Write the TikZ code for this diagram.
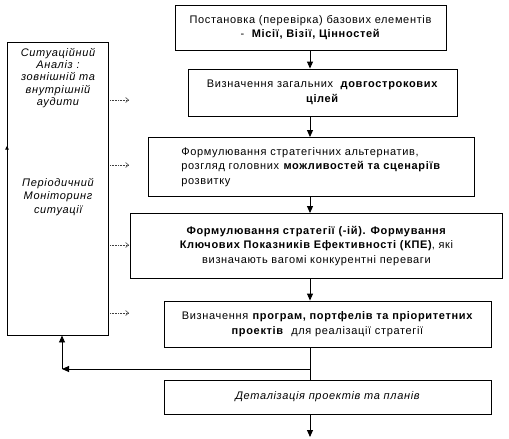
\documentclass[tikz,border=0pt]{standalone}
\usepackage{fontspec}
\setmainfont{Liberation Sans}[LetterSpace=6]
\usetikzlibrary{arrows.meta}
\begin{document}
\begin{tikzpicture}[x=1pt,y=-1pt,
  every node/.style={font=\fontsize{11}{14.5}\selectfont},
  box/.style={draw, line width=0.9pt, inner sep=0pt, align=center},
  arr/.style={line width=0.9pt, -{Triangle[width=6pt,length=7pt]}},
  plain/.style={line width=0.9pt},
  dotarr/.style={densely dotted, line width=0.6pt, black!75, -{Straight Barb[length=3pt,width=5pt]}},
  lbl/.style={align=center, inner sep=0pt, font=\fontsize{11}{12.3}\selectfont\itshape}]
\useasboundingbox (0,0) rectangle (509,439);
\node[box, minimum width=271, minimum height=45] (B1) at (310.5,27.5)
  {Постановка (перевірка) базових елементів\\-\ \ \textbf{Місії, Візії, Цінностей}};
\node[box, minimum width=269, minimum height=47] (B2) at (322.5,92.5)
  {Визначення загальних\ \ \textbf{довгострокових}\\\textbf{цілей}};
\node[box, minimum width=326, minimum height=59, align=left] (B3) at (311,167)
  {Формулювання стратегічних альтернатив,\\розгляд головних \textbf{можливостей та сценаріїв}\\розвитку};
\node[box, minimum width=372, minimum height=65] (B4) at (316.5,246)
  {\textbf{Формулювання стратегії (-ій). Формування}\\\textbf{Ключових Показників Ефективності (КПЕ)}, які\\визначають вагомі конкурентні переваги};
\node[box, minimum width=327, minimum height=46] (B5) at (327.5,324)
  {Визначення \textbf{програм, портфелів та пріоритетних}\\\textbf{проектів}\ \ для реалізації стратегії};
\node[box, minimum width=327, minimum height=34, font=\fontsize{11}{14}\selectfont\itshape] (B6) at (327.5,397)
  {Деталізація проектів та планів};
\node[box, minimum width=101, minimum height=293] (L) at (58,188.5) {};
\node[lbl] (L1) at (58,78) {Ситуаційний\\Аналіз :\\зовнішній та\\внутрішній\\аудити};
\node[lbl, font=\fontsize{11}{13.5}\selectfont\itshape] (L2) at (58,197) {Періодичний\\Моніторинг\\ситуації};

\coordinate (X) at (310,0);
\draw[arr] (B1.south -| X) -- (B2.north -| X);
\draw[arr] (B2.south -| X) -- (B3.north -| X);
\draw[arr] (B3.south -| X) -- (B4.north -| X);
\draw[arr] (B4.south -| X) -- (B5.north -| X);
\coordinate (J) at (310,369);
\coordinate (C) at (62,369);
\coordinate (E) at (310,437);
\draw[plain] (B5.south -| X) -- (B6.north -| X);
\draw[arr] (J) -- (C);
\draw[arr] (C) -- (L.south -| C);
\draw[arr] (B6.south -| X) -- (E);

\coordinate (U1) at (7,153);
\coordinate (U2) at (7,146);
\draw[line width=0.6pt, -{Triangle[width=3.5pt,length=3.5pt]}] (U1) -- (U2);

\foreach \y/\n in {100/a,165/b,245/c,313/d}{
  \coordinate (s\n) at (110,\y);
  \coordinate (t\n) at (129,\y);
  \draw[dotarr] (s\n) -- (t\n);
}
\end{tikzpicture}
\end{document}
